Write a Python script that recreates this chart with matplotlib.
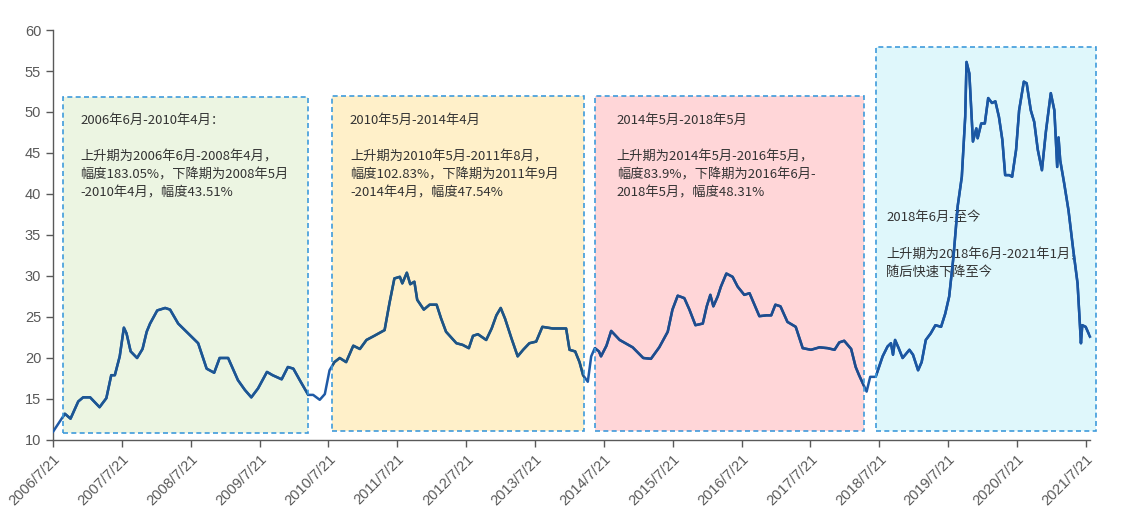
import pandas as pd
import matplotlib
matplotlib.use("Agg")
import matplotlib.pyplot as plt
import matplotlib.dates as mdates
from matplotlib.patches import Rectangle
from matplotlib.colors import to_rgb

dates = [
    "2006-07-21", "2006-09-22", "2006-10-22", "2006-12-02", "2006-12-28", "2007-02-03",
    "2007-03-25", "2007-04-30", "2007-05-26", "2007-06-14", "2007-07-10", "2007-08-01",
    "2007-08-15", "2007-09-06", "2007-10-10", "2007-11-08", "2007-11-30", "2007-12-18",
    "2008-01-25", "2008-03-07", "2008-04-02", "2008-05-15", "2008-07-16", "2008-08-29",
    "2008-10-13", "2008-11-22", "2008-12-21", "2009-02-04", "2009-03-28", "2009-05-04",
    "2009-06-07", "2009-07-13", "2009-08-29", "2009-09-28", "2009-11-15", "2009-12-18",
    "2010-01-16", "2010-02-19", "2010-04-05", "2010-05-01", "2010-06-05", "2010-07-02",
    "2010-07-27", "2010-08-22", "2010-09-19", "2010-10-23", "2010-11-30", "2011-01-04",
    "2011-02-08", "2011-03-21", "2011-05-15", "2011-06-10", "2011-07-06", "2011-08-04",
    "2011-08-17", "2011-09-10", "2011-09-28", "2011-10-20", "2011-11-04", "2011-12-09",
    "2012-01-09", "2012-02-15", "2012-03-10", "2012-04-05", "2012-05-30", "2012-07-02",
    "2012-08-04", "2012-08-26", "2012-09-21", "2012-11-04", "2012-12-03", "2012-12-28",
    "2013-01-20", "2013-02-12", "2013-03-18", "2013-04-20", "2013-05-19", "2013-06-21",
    "2013-07-27", "2013-08-29", "2013-10-23", "2013-11-26", "2014-01-02", "2014-01-20",
    "2014-02-19", "2014-03-14", "2014-04-02", "2014-04-27", "2014-05-15", "2014-06-03",
    "2014-06-25", "2014-07-06", "2014-08-04", "2014-08-29", "2014-10-13", "2014-12-21",
    "2015-02-15", "2015-03-28", "2015-05-11", "2015-06-25", "2015-07-20", "2015-08-17",
    "2015-09-21", "2015-10-18", "2015-11-19", "2015-12-28", "2016-01-18", "2016-02-06",
    "2016-02-22", "2016-03-16", "2016-04-02", "2016-05-01", "2016-06-03", "2016-06-30",
    "2016-08-04", "2016-09-01", "2016-10-23", "2016-11-30", "2016-12-25", "2017-01-16",
    "2017-02-12", "2017-03-21", "2017-05-04", "2017-06-10", "2017-07-24", "2017-09-07",
    "2017-10-20", "2017-11-26", "2017-12-21", "2018-01-16", "2018-02-22", "2018-03-18",
    "2018-04-05", "2018-05-15", "2018-06-03", "2018-07-02", "2018-08-08", "2018-09-03",
    "2018-09-21", "2018-10-02", "2018-10-13", "2018-11-01", "2018-11-22", "2018-12-28",
    "2019-01-16", "2019-02-12", "2019-03-03", "2019-03-25", "2019-04-20", "2019-05-15",
    "2019-06-14", "2019-07-06", "2019-07-27", "2019-08-19", "2019-09-10", "2019-10-02",
    "2019-10-20", "2019-10-27", "2019-11-11", "2019-11-30", "2019-12-18", "2019-12-25",
    "2020-01-13", "2020-02-01", "2020-02-19", "2020-03-10", "2020-03-28", "2020-04-16",
    "2020-05-04", "2020-05-19", "2020-06-10", "2020-06-25", "2020-07-16", "2020-08-01",
    "2020-08-26", "2020-09-10", "2020-10-02", "2020-10-20", "2020-11-08", "2020-11-30",
    "2020-12-21", "2021-01-16", "2021-02-04", "2021-02-19", "2021-02-26", "2021-03-07",
    "2021-03-28", "2021-04-20", "2021-05-15", "2021-06-07", "2021-06-25", "2021-07-02",
    "2021-07-20", "2021-08-12",
]
values = [
    11.0, 13.2, 12.6, 14.7, 15.2, 15.2,
    14.0, 15.1, 17.9, 17.9, 20.2, 23.7,
    23.0, 20.8, 20.0, 21.1, 23.2, 24.2,
    25.8, 26.1, 25.9, 24.2, 22.8, 21.8,
    18.7, 18.2, 20.0, 20.0, 17.3, 16.1,
    15.2, 16.3, 18.3, 17.9, 17.4, 18.9,
    18.7, 17.3, 15.5, 15.5, 14.9, 15.6,
    18.5, 19.5, 20.0, 19.5, 21.5, 21.1,
    22.2, 22.7, 23.4, 26.7, 29.7, 29.9,
    29.1, 30.4, 29.0, 29.3, 27.1, 25.9,
    26.5, 26.5, 24.8, 23.2, 21.8, 21.6,
    21.2, 22.7, 22.9, 22.2, 23.6, 25.2,
    26.1, 24.8, 22.4, 20.2, 21.0, 21.8,
    22.0, 23.8, 23.6, 23.6, 23.6, 21.0,
    20.8, 19.5, 17.9, 17.1, 20.2, 21.2,
    20.8, 20.2, 21.5, 23.3, 22.2, 21.3,
    20.0, 19.9, 21.3, 23.2, 25.9, 27.6,
    27.3, 25.9, 24.0, 24.2, 26.3, 27.7,
    26.3, 27.5, 28.7, 30.3, 29.9, 28.7,
    27.7, 27.9, 25.1, 25.2, 25.2, 26.5,
    26.3, 24.4, 23.8, 21.2, 21.0, 21.3,
    21.2, 21.0, 21.9, 22.1, 21.1, 18.9,
    17.9, 15.9, 17.7, 17.7, 20.2, 21.4,
    21.8, 20.4, 22.2, 21.2, 20.0, 21.0,
    20.4, 18.5, 19.5, 22.2, 23.0, 24.0,
    23.8, 25.4, 27.5, 32.4, 38.5, 42.1,
    49.4, 56.1, 54.7, 46.4, 48.0, 46.8,
    48.6, 48.6, 51.7, 51.1, 51.3, 49.4,
    46.6, 42.3, 42.3, 42.1, 45.4, 50.2,
    53.7, 53.5, 50.2, 48.8, 45.4, 42.9,
    47.6, 52.3, 50.2, 43.3, 46.9, 44.1,
    41.3, 38.0, 33.2, 29.1, 21.8, 24.0,
    23.8, 22.6,
]

tick_dates = [f"{y}-07-21" for y in range(2006, 2022)]
tick_labels = [f"{y}/7/21" for y in range(2006, 2022)]

# shaded periods: start, end, low, high, fill colour
box_start = ["2006-09-13", "2010-08-08", "2014-06-06", "2018-07-06"]
box_end = ["2010-04-02", "2014-04-09", "2018-05-02", "2021-09-14"]
box_low = [10.85, 11.1, 11.1, 11.1]
box_high = [51.8, 51.9, 51.9, 57.9]
box_colors = ["#ECF5E2", "#FFF0C9", "#FFD6D8", "#DFF7FB"]

box_text_x = ["2006-12-12", "2010-11-12", "2014-09-27", "2018-08-26"]
box_title_y = [49.0, 49.0, 49.0, 37.1]
box_titles = ["2006年6月-2010年4月：", "2010年5月-2014年4月", "2014年5月-2018年5月", "2018年6月-至今"]
box_bodies = [
    ["上升期为2006年6月-2008年4月，", "幅度183.05%，下降期为2008年5月", "-2010年4月，幅度43.51%"],
    ["上升期为2010年5月-2011年8月，", "幅度102.83%，下降期为2011年9月", "-2014年4月，幅度47.54%"],
    ["上升期为2014年5月-2016年5月，", "幅度83.9%，下降期为2016年6月-", "2018年5月，幅度48.31%"],
    ["上升期为2018年6月-2021年1月，", "随后快速下降至今"],
]

line_color = "#1F5AA6"
text_color = "#333333"
tick_color = "#595959"
cjk = ["Noto Sans CJK SC", "DejaVu Sans"]

x = pd.to_datetime(dates)

fig = plt.figure(figsize=(11.3, 5.31), dpi=100)
ax = fig.add_axes([0.0469, 0.1714, 0.9177, 0.7721])

ax.plot(x, values, color=line_color, lw=1.8, zorder=3)

base = to_rgb(line_color)
for i in range(len(box_start)):
    x0 = mdates.date2num(pd.Timestamp(box_start[i]))
    x1 = mdates.date2num(pd.Timestamp(box_end[i]))
    fill = Rectangle((x0, box_low[i]), x1 - x0, box_high[i] - box_low[i],
                     facecolor=box_colors[i], edgecolor="none", zorder=1, clip_on=False)
    ax.add_patch(fill)
    edge = Rectangle((x0, box_low[i]), x1 - x0, box_high[i] - box_low[i],
                     facecolor="none", edgecolor="#3F9BDB", lw=1.2,
                     linestyle=(0, (3, 2)), zorder=5, clip_on=False)
    ax.add_patch(edge)
    # the line seen through the tinted box (multiply blend)
    tint = to_rgb(box_colors[i])
    mixed = tuple(b * t for b, t in zip(base, tint))
    seg, = ax.plot(x, values, color=mixed, lw=1.8, zorder=4)
    seg.set_clip_path(fill)

    tx = pd.Timestamp(box_text_x[i])
    ty = box_title_y[i]
    ax.text(tx, ty, box_titles[i], family=cjk, fontsize=9.5, color=text_color,
            va="center", ha="left", zorder=2)
    for k, line in enumerate(box_bodies[i]):
        ax.text(tx, ty - 4.5 - 2.2 * k, line, family=cjk, fontsize=9.5,
                color=text_color, va="center", ha="left", zorder=2)

ax.set_ylim(10, 60)
ax.set_yticks(range(10, 61, 5))
ax.set_xlim(pd.Timestamp("2006-07-21"), pd.Timestamp("2021-08-12"))
ax.set_xticks(pd.to_datetime(tick_dates))
ax.set_xticklabels(tick_labels, rotation=45, ha="right", rotation_mode="anchor")

for side in ["top", "right"]:
    ax.spines[side].set_visible(False)
for side in ["left", "bottom"]:
    ax.spines[side].set_color("#595959")
    ax.spines[side].set_linewidth(1.0)

ax.tick_params(axis="both", colors=tick_color, labelcolor=tick_color, length=5, width=1.0,
               labelsize=10.5)
for lab in ax.get_xticklabels() + ax.get_yticklabels():
    lab.set_family("Liberation Sans")

plt.savefig("out.png", dpi=100)
